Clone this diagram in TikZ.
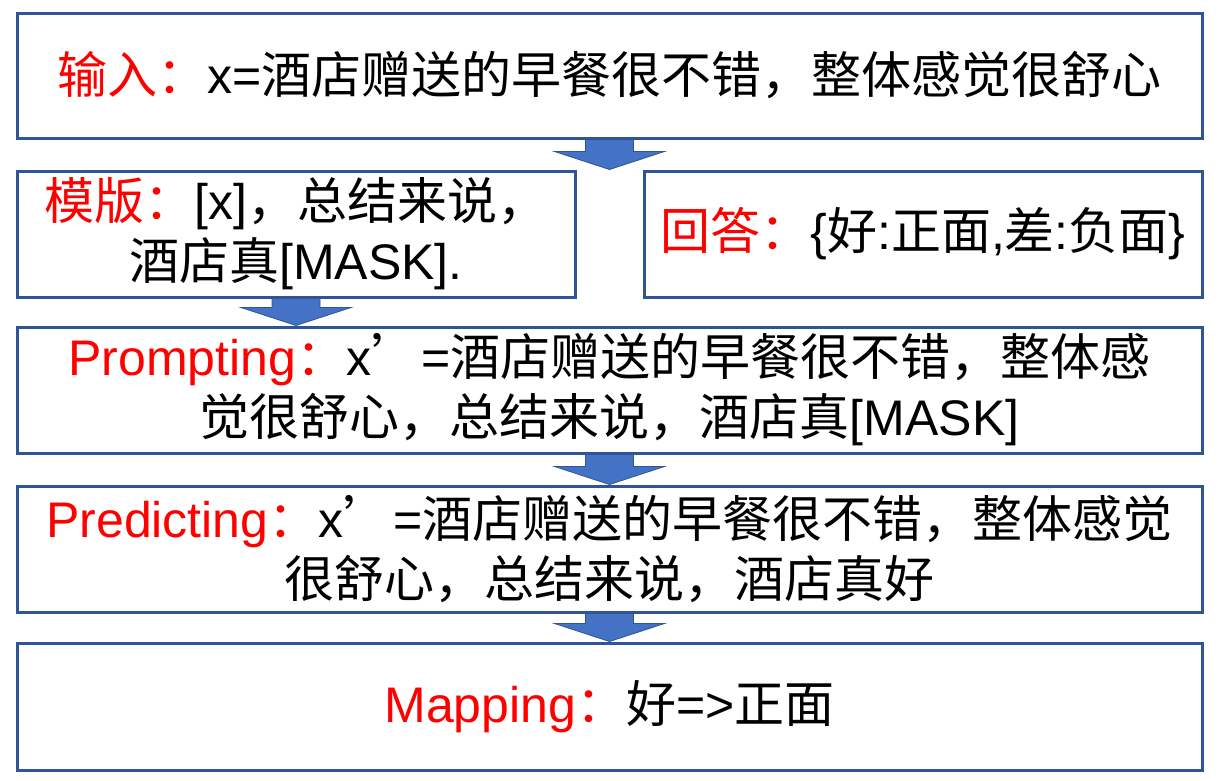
\documentclass[tikz,border=0pt]{standalone}
\usepackage{fontspec}
\setmainfont{Liberation Sans}
\newfontfamily\cjk{Noto Sans CJK SC}
\usetikzlibrary{calc}

\definecolor{boxline}{HTML}{2F5597}
\definecolor{arrowfill}{HTML}{4472C4}

\tikzset{
    textbox/.style={draw=boxline, line width=3pt, align=center, inner sep=0pt,
        font=\fontsize{50pt}{60pt}\selectfont},
    blockarrow/.style={draw=boxline, line width=0.8pt, fill=arrowfill}
}

\newcommand{\redlabel}[1]{\textcolor{red}{#1}}
\newcommand{\blockarrow}[2]{%
    \draw[blockarrow] let \p1=(#1), \p2=(#2) in
        (\x1-24pt,\y1) -- (\x1+24pt,\y1) -- (\x1+24pt,\y2+18pt) -- (\x1+55pt,\y2+18pt)
        -- (\x1,\y2) -- (\x1-55pt,\y2+18pt) -- (\x1-24pt,\y2+18pt) -- cycle;}

\begin{document}
\begin{tikzpicture}[x=1pt, y=-1pt]
    \useasboundingbox (0,0) rectangle (1224,780);

    \node[textbox, minimum width=1185pt, minimum height=125pt] (input) at (609.5,75.5)
        {\redlabel{\cjk 输入：}x={\cjk 酒店赠送的早餐很不错，整体感觉很舒心}};
    \node[textbox, minimum width=558pt, minimum height=126pt] (template) at (296,234)
        {\redlabel{\cjk 模版：}[x]{\cjk ，总结来说，}\\{\cjk 酒店真}[MASK].};
    \node[textbox, minimum width=558pt, minimum height=126pt] (answer) at (923,234)
        {\redlabel{\cjk 回答：}\{{\cjk 好}:{\cjk 正面},{\cjk 差}:{\cjk 负面}\}};
    \node[textbox, minimum width=1185pt, minimum height=126pt] (prompting) at (609.5,390)
        {\redlabel{Prompting\cjk ：}x{\cjk ’}={\cjk 酒店赠送的早餐很不错，整体感}\\{\cjk 觉很舒心，总结来说，酒店真}[MASK]};
    \node[textbox, minimum width=1185pt, minimum height=126pt] (predicting) at (609.5,549)
        {\redlabel{Predicting\cjk ：}x{\cjk ’}={\cjk 酒店赠送的早餐很不错，整体感觉}\\{\cjk 很舒心，总结来说，酒店真好}};
    \node[textbox, minimum width=1185pt, minimum height=127pt] (mapping) at (609.5,706.5)
        {\redlabel{Mapping\cjk ：}{\cjk 好}=>{\cjk 正面}};

    \blockarrow{input.south}{input.south |- answer.north}
    \blockarrow{template.south}{template.south |- prompting.north}
    \blockarrow{prompting.south}{predicting.north}
    \blockarrow{predicting.south}{mapping.north}
\end{tikzpicture}
\end{document}
